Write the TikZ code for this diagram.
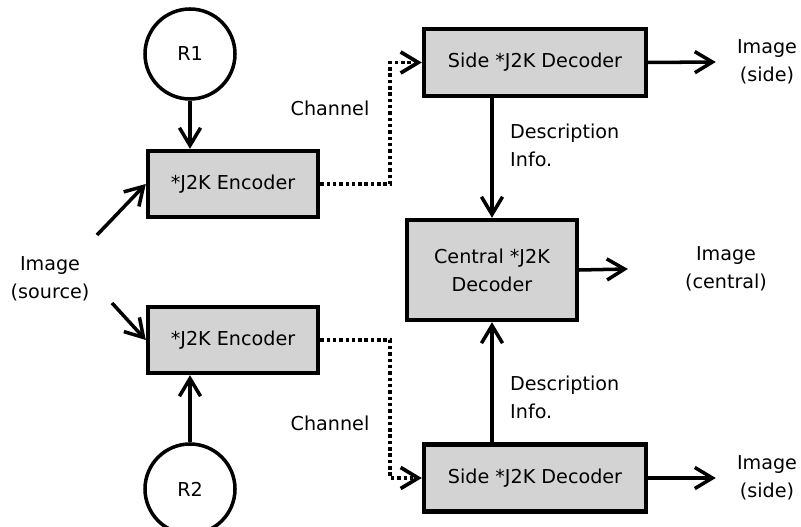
\documentclass[tikz,border=0pt]{standalone}
\usepackage{fontspec}
\setmainfont{DejaVu Sans}
\usetikzlibrary{arrows.meta}
\definecolor{blkfill}{HTML}{D3D3D3}

\begin{document}
\begin{tikzpicture}[
  font=\fontsize{10.9pt}{15.8pt}\selectfont,
  >={Straight Barb[length=10pt,width=12pt]},
  block/.style={draw, line width=2.5pt, fill=blkfill, align=center},
  enc/.style={block, minimum width=3.4cm, minimum height=1.32cm},
  sidedec/.style={block, minimum width=4.44cm, minimum height=1.34cm},
  rate/.style={draw, circle, line width=2pt, minimum size=1.8cm},
  lbl/.style={align=center},
  flow/.style={->, line width=2pt},
  chan/.style={->, line width=2.1pt, dash pattern=on 2pt off 1.6pt}]

%% fixed canvas, 16.02 x 10.54 cm; R2 runs off the bottom edge on purpose
\useasboundingbox (0,0) rectangle (16.02,10.54);

%% ---- encoders and their rate circles ----
\node[rate] (r1) at (3.80,9.46) {R1};
\node[rate] (r2) at (3.80,0.76) {R2};
\node[enc] (enc1) at (4.66,6.86) {*J2K Encoder};
\node[enc] (enc2) at (4.66,3.74) {*J2K Encoder};

\node[lbl] (src) at (1.00,4.96) {Image\\(source)};
\coordinate (srcup) at (1.94,5.84);
\coordinate (srcdn) at (2.24,4.48);

\draw[flow] (r1.south) -- (r1.south |- enc1.north);
\draw[flow] (r2.north) -- (r2.north |- enc2.south);
\draw[flow] (srcup) -- (enc1.west);
\draw[flow] (srcdn) -- (enc2.west);

%% ---- decoders ----
\node[sidedec] (sideT) at (10.70,9.29) {Side *J2K Decoder};
\node[sidedec] (sideB) at (10.70,0.98) {Side *J2K Decoder};
\node[block, minimum width=3.4cm, minimum height=2.0cm] (central)
  at (9.84,5.14) {Central *J2K\\Decoder};

%% ---- channels (dotted) ----
\node (chT) at (6.60,8.38) {Channel};
\node (chB) at (6.60,2.08) {Channel};
\draw[chan] (enc1.east) -- ++(1.40,0) |- (sideT.west);
\draw[chan] (enc2.east) -- ++(1.40,0) |- (sideB.west);

%% ---- side info into the central decoder ----
\node[anchor=west, align=left] (descT) at (10.08,7.64) {Description\\Info.};
\node[anchor=west, align=left] (descB) at (10.08,2.60) {Description\\Info.};
\draw[flow] (sideT.south -| central.north) -- (central.north);
\draw[flow] (sideB.north -| central.south) -- (central.south);

%% ---- outputs ----
\node[lbl] (outT) at (15.34,9.30) {Image\\(side)};
\node[lbl] (outB) at (15.34,0.98) {Image\\(side)};
\node[lbl] (outC) at (14.52,5.16) {Image\\(central)};
\draw[flow] (sideT.east) -- ([xshift=-0.30cm]outT.west);
\draw[flow] (sideB.east) -- ([xshift=-0.30cm]outB.west);
\draw[flow] (central.east) -- ([xshift=-1.02cm]outC.west);

\end{tikzpicture}
\end{document}
